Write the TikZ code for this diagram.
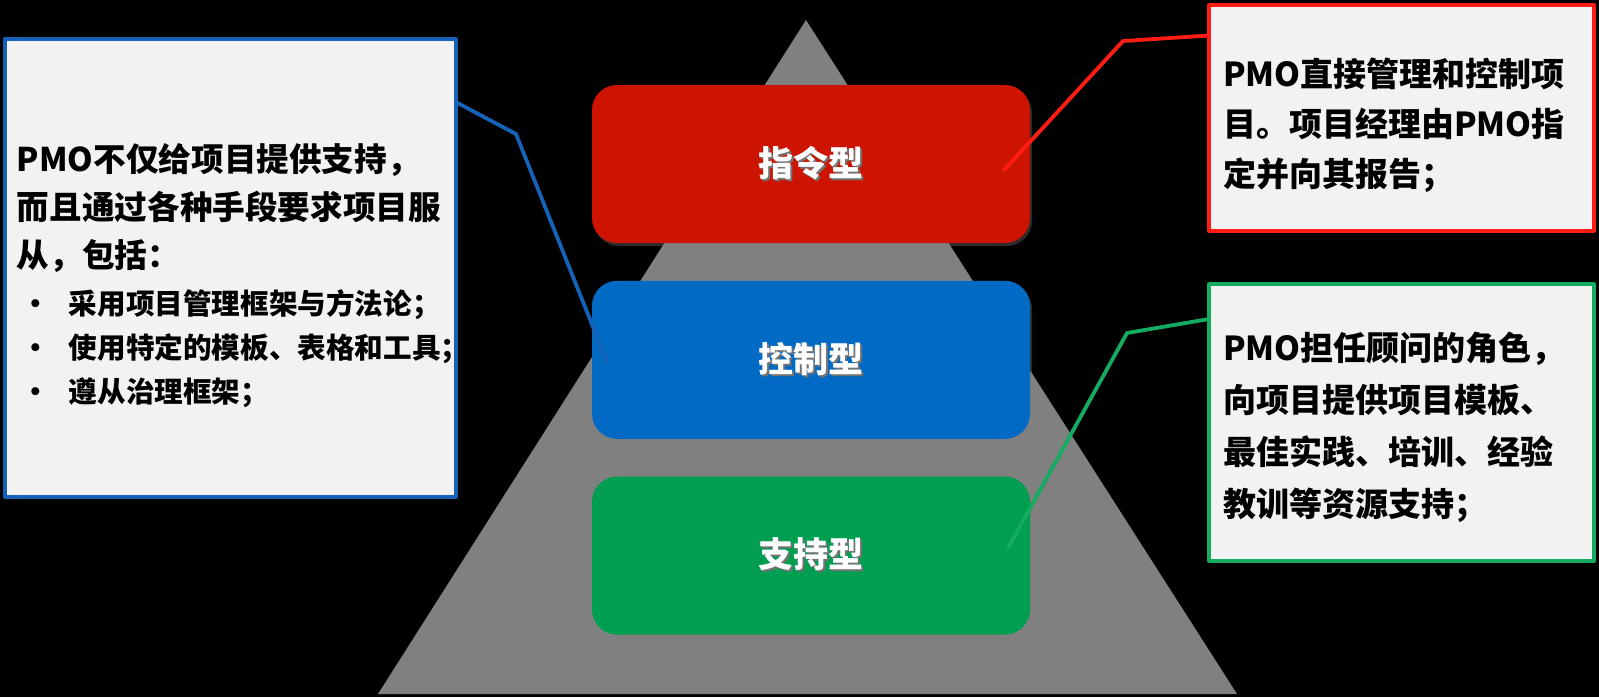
\documentclass[tikz,border=0pt]{standalone}
\usepackage{fontspec}
\newfontfamily\cjk{Noto Sans CJK SC}
\usetikzlibrary{positioning,shadows}
\definecolor{hongse}{RGB}{205,20,0}
\definecolor{lanse}{RGB}{0,106,196}
\definecolor{lvse}{RGB}{0,158,80}
\definecolor{huise}{RGB}{128,128,128}
\definecolor{baise}{RGB}{242,242,242}
\definecolor{hongxian}{RGB}{255,28,20}
\definecolor{lanxian}{RGB}{22,98,184}
\definecolor{lvxian}{RGB}{20,172,96}
\begin{document}
\begin{tikzpicture}[x=0.5pt, y=-0.5pt, font=\cjk\bfseries, line join=round, line cap=round]
	\tikzset{leixing/.style={rounded corners=12.5pt, minimum width=219pt, minimum height=79pt, text=white,
			font=\cjk\bfseries\fontsize{17.5}{20}\selectfont,
			drop shadow={opacity=0.35, shadow xshift=1pt, shadow yshift=-1.5pt}}}
	\tikzset{shuoming/.style={draw=#1, line width=1.6pt, fill=baise, text=black, align=left, inner xsep=7pt}}
	\tikzset{lianxian/.style={draw=#1, line width=1.9pt}}
	
	\def \yinying#1{\makebox[0pt][l]{\hspace{1pt}\raisebox{-1pt}{\color{black!55}#1}}#1}
	\def \dian{\makebox[26pt][l]{\hspace{2pt}•}}
	
	\fill[black] (0,0) rectangle (1599,697);
	\useasboundingbox (0,0) rectangle (1599,697);
	% pyramid
	\fill[huise] (806,20) -- (1237,694) -- (378,694) -- cycle;
	
	\node[leixing, fill=hongse] (zhiling) at (811,164) {\yinying{指令型}};
	\node[leixing, fill=lanse, below=18.5pt of zhiling] (kongzhi) {\yinying{控制型}};
	\node[leixing, fill=lvse, below=18.5pt of kongzhi] (zhichi) {\yinying{支持型}};
	
	\node[shuoming=lanxian, minimum width=225.5pt, minimum height=229pt, text width=213.5pt, inner xsep=6pt,
		font=\cjk\bfseries\fontsize{16.3}{22}\selectfont] (zuo) at (230.5,268)
		{\rule{0pt}{22pt}PMO不仅给项目提供支持，\\[1.8pt]
		而且通过各种手段要求项目服\\[1.8pt]
		从，包括：\\[1.8pt]
		\fontsize{14.3}{22}\selectfont
		\dian 采用项目管理框架与方法论；\\
		\dian 使用特定的模板、表格和工具；\\
		\dian 遵从治理框架；};
	\node[shuoming=hongxian, minimum width=192.5pt, minimum height=113pt, text width=178.5pt,
		font=\cjk\bfseries\fontsize{16.5}{25}\selectfont] (youshang) at (1401.5,118)
		{\rule{0pt}{22pt}PMO直接管理和控制项\\
		目。项目经理由PMO指\\
		定并向其报告；};
	\node[shuoming=lvxian, minimum width=192.5pt, minimum height=138.5pt, text width=178.5pt,
		font=\cjk\bfseries\fontsize{16.5}{26}\selectfont] (youxia) at (1401.5,422.5)
		{\rule{0pt}{19pt}PMO担任顾问的角色，\\
		向项目提供项目模板、\\
		最佳实践、培训、经验\\
		教训等资源支持；};
	
	\coordinate (zhe1) at (516,134);
	\coordinate (zhe2) at (1123,41);
	\coordinate (zhe3) at (1127,333);
	\coordinate (mo1) at (607,362);
	\coordinate (mo2) at (1004,170);
	\coordinate (mo3) at (1008,548);
	\draw[lianxian=lanxian] (zuo.36) -- (zhe1) -- (mo1);
	\draw[lianxian=hongxian] (youshang.157) -- (zhe2) -- (mo2);
	\draw[lianxian=lvxian] (youxia.152) -- (zhe3) -- (mo3);
\end{tikzpicture}
\end{document}
